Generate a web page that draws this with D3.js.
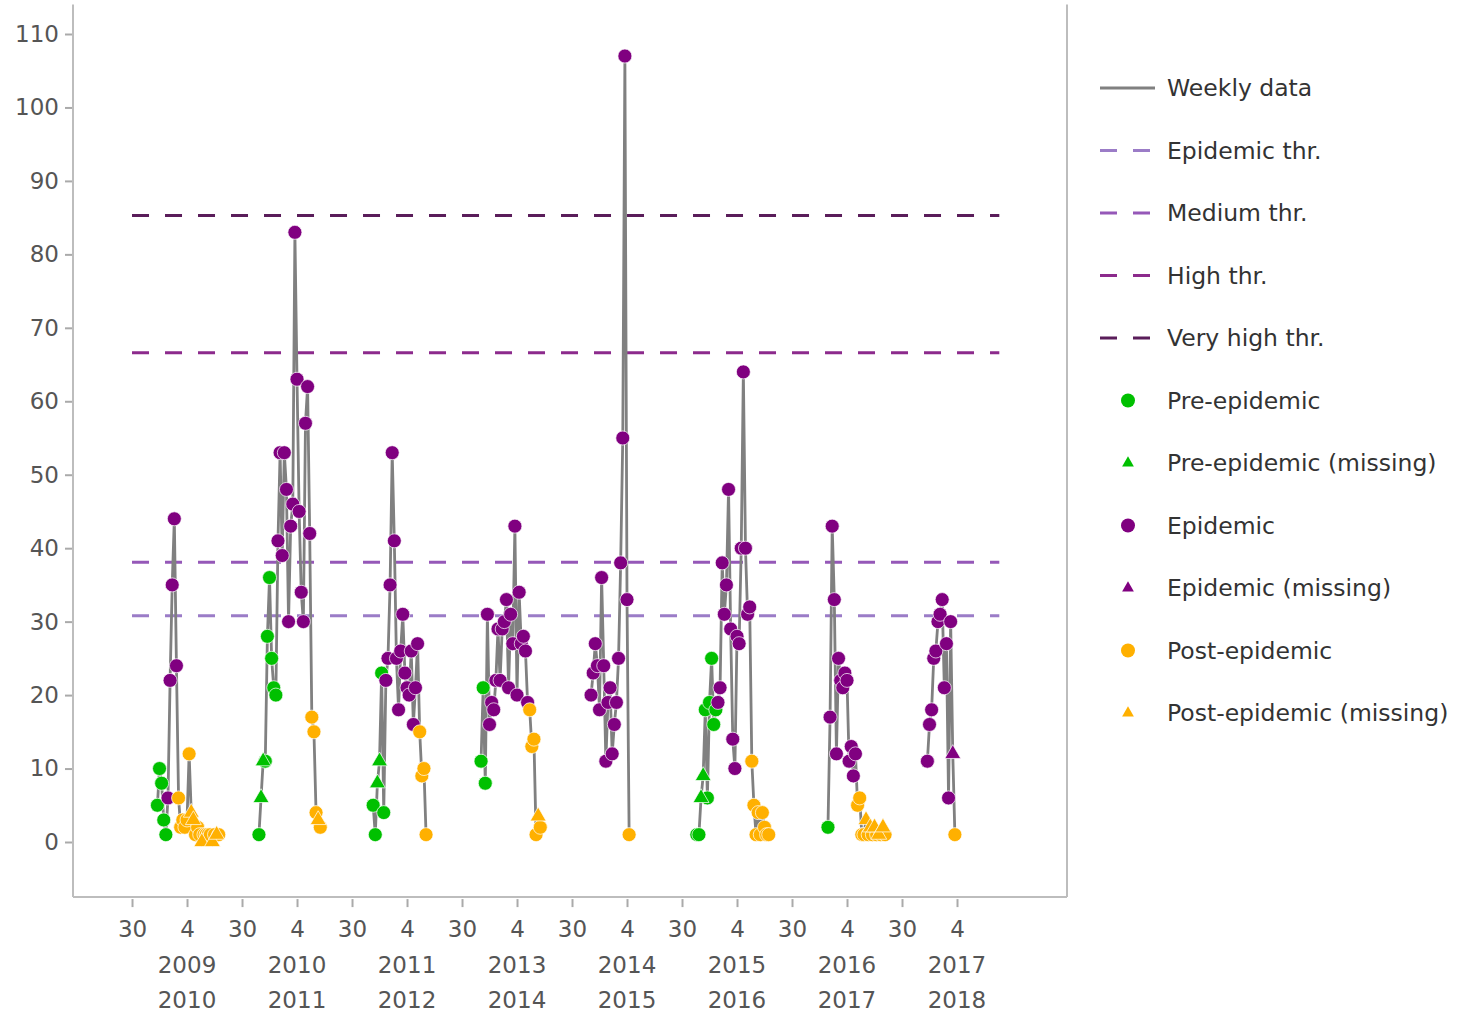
<!DOCTYPE html>
<html>
<head>
<meta charset="utf-8">
<script src="https://cdn.jsdelivr.net/npm/d3@7"></script>
<style>
  body { margin: 0; background: #fff; }
  text { font-family: "DejaVu Sans", Verdana, sans-serif; }
</style>
</head>
<body>
<svg id="chart" width="1466" height="1015"></svg>
<script>
/*
 * Data: weekly rates per season
 * Weeks are counted from week 30 of each season; each season spans 52 weeks
 */
const seasonYears1 = ['2009', '2010', '2011', '2013', '2014', '2015', '2016', '2017'];
const seasonYears2 = ['2010', '2011', '2012', '2014', '2015', '2016', '2017', '2018'];
const startWeeks = [12, 8, 10, 9, 9, 7, 17, 12];

const seasonValues = [
  [5, 10, 8, 3, 1, 6, 22, 35, 44, 24, 6, 2, 3, 2, 3, 12, 4, 3, 1, 2, 1, 0, 1, 1, 1, 1, 0, 1, 1, 1],
  [1, 6, 11, 11, 28, 36, 25, 21, 20, 41, 53, 39, 53, 48, 30, 43, 46, 83, 63, 45, 34, 30, 57, 62, 42, 17, 15, 4, 3, 2],
  [5, 1, 8, 11, 23, 4, 22, 25, 35, 53, 41, 25, 18, 26, 31, 23, 21, 20, 26, 16, 21, 27, 15, 9, 10, 1],
  [11, 21, 8, 31, 16, 19, 18, 22, 29, 22, 29, 30, 33, 21, 31, 27, 43, 20, 34, 27, 28, 26, 19, 18, 13, 14, 1, 3.5, 2],
  [20, 23, 27, 24, 18, 36, 24, 11, 19, 21, 12, 16, 19, 25, 38, 55, 107, 33, 1],
  [1, 1, 6, 9, 18, 6, 19, 25, 16, 18, 19, 21, 38, 31, 35, 48, 29, 14, 10, 28, 27, 40, 64, 40, 31, 32, 11, 5, 1, 4, 1, 4, 2, 1, 1],
  [2, 17, 43, 33, 12, 25, 22, 21, 23, 22, 11, 13, 9, 12, 5, 6, 1, 1, 3, 1, 2, 1, 2, 1, 1, 1, 2, 1],
  [11, 16, 18, 25, 26, 30, 31, 33, 21, 27, 6, 30, 12, 1]
];

// r = pre-epidemic, e = epidemic, o = post-epidemic; upper case = missing
const seasonPhases = [
  'rrrrreeeeeooooooOOoooOooooOoOo',
  'rRRrrrrrreeeeeeeeeeeeeeeeoooOo',
  'rrRRrreeeeeeeeeeeeeeeeoooo',
  'rrreeeeeeeeeeeeeeeeeeeeooooOo',
  'eeeeeeeeeeeeeeeeeeo',
  'rrRRrrrrrreeeeeeeeeeeeeeeeooooooooo',
  'reeeeeeeeeeeeeooooOoOoOoOoOo',
  'eeeeeeeeeeeeEo'
];

const thresholdNames = ['Epidemic thr.', 'Medium thr.', 'High thr.', 'Very high thr.'];
const thresholdValues = [30.8, 38.1, 66.6, 85.3];
const thresholdColors = ['#9b7cc7', '#9558b8', '#8c2a8c', '#5a1d5a'];

const phaseNames = {
  r: 'Pre-epidemic', R: 'Pre-epidemic (missing)',
  e: 'Epidemic', E: 'Epidemic (missing)',
  o: 'Post-epidemic', O: 'Post-epidemic (missing)'
};
const phaseColors = { r: '#00c000', e: '#800080', o: '#ffb000' };

const yTicks = d3.range(0, 111, 10);

/*
 * Layout
 */
const weeksPerSeason = 52;
const svg = d3.select('#chart');

const x = d3.scaleLinear()
    .domain([-27.9, 442])
    .range([73, 1067]);

const y = d3.scaleLinear()
    .domain([0, 110])
    .range([842, 34]);

const plotTop = y(114);
const plotBottom = y(-7.5);

// Build point records
const points = [];
const seasonLines = seasonValues.map((vals, s) => {
  return vals.map((v, i) => {
    const code = seasonPhases[s][i];
    const p = {
      week: s * weeksPerSeason + startWeeks[s] + i,
      value: v,
      phase: code.toLowerCase(),
      missing: code !== code.toLowerCase()
    };
    points.push(p);
    return p;
  });
});

/*
 * Axes frame
 */
const frame = svg.append('g').attr('stroke', '#bdbdbd').attr('stroke-width', 2);
frame.append('line').attr('x1', 73).attr('x2', 73).attr('y1', plotTop).attr('y2', plotBottom);
frame.append('line').attr('x1', 73).attr('x2', 1067).attr('y1', plotBottom).attr('y2', plotBottom);
frame.append('line').attr('x1', 1067).attr('x2', 1067).attr('y1', plotTop).attr('y2', plotBottom);

const yAxis = svg.append('g')
    .attr('transform', 'translate(72,0)')
    .call(d3.axisLeft(y).tickValues(yTicks).tickSize(7).tickPadding(6));
yAxis.select('.domain').remove();
yAxis.selectAll('line').attr('stroke', '#aaa').attr('stroke-width', 2);
yAxis.selectAll('text').attr('fill', '#555').style('font-size', '23px')
    .style('font-family', '"DejaVu Sans", Verdana, sans-serif');

const xTickValues = [];
const xTickLabels = [];
seasonYears1.forEach((d, s) => {
  xTickValues.push(s * weeksPerSeason, s * weeksPerSeason + 26);
  xTickLabels.push('30', '4');
});

const xAxis = svg.append('g')
    .attr('transform', `translate(0, ${plotBottom + 2})`)
    .call(d3.axisBottom(x).tickValues(xTickValues).tickSize(8)
      .tickFormat((d, i) => xTickLabels[i]).tickPadding(14));
xAxis.select('.domain').remove();
xAxis.selectAll('line').attr('stroke', '#aaa').attr('stroke-width', 2);
xAxis.selectAll('text').attr('fill', '#555').style('font-size', '23px')
    .style('font-family', '"DejaVu Sans", Verdana, sans-serif');

const seasonLabel = svg.append('g')
    .attr('fill', '#555')
    .style('font-size', '23px')
    .attr('text-anchor', 'middle');
seasonLabel.selectAll('.y1')
  .data(seasonYears1)
  .join('text')
    .attr('x', (d, s) => x(s * weeksPerSeason + 26))
    .attr('y', 965)
    .attr('dy', '0.35em')
    .text(d => d);
seasonLabel.selectAll('.y2')
  .data(seasonYears2)
  .join('text')
    .attr('x', (d, s) => x(s * weeksPerSeason + 26))
    .attr('y', 1000)
    .attr('dy', '0.35em')
    .text(d => d);

/*
 * Thresholds
 */
svg.append('g').selectAll('line')
  .data(thresholdValues)
  .join('line')
    .attr('x1', x(0))
    .attr('x2', x(410))
    .attr('y1', d => y(d))
    .attr('y2', d => y(d))
    .attr('stroke', (d, i) => thresholdColors[i])
    .attr('stroke-width', 3)
    .attr('stroke-dasharray', '17,16');

/*
 * Weekly data lines
 */
const line = d3.line().x(d => x(d.week)).y(d => y(d.value));
svg.append('g').selectAll('path')
  .data(seasonLines)
  .join('path')
    .attr('d', line)
    .attr('fill', 'none')
    .attr('stroke', '#808080')
    .attr('stroke-width', 2.8);

/*
 * Markers
 */
const triangle = d3.symbol(d3.symbolTriangle, 110);
const markers = svg.append('g');
markers.selectAll('circle')
  .data(points.filter(d => !d.missing))
  .join('circle')
    .attr('cx', d => x(d.week))
    .attr('cy', d => y(d.value))
    .attr('r', 7)
    .attr('fill', d => phaseColors[d.phase])
    .attr('stroke', '#fff')
    .attr('stroke-opacity', 0.7)
    .attr('stroke-width', 1);
markers.selectAll('path')
  .data(points.filter(d => d.missing))
  .join('path')
    .attr('d', triangle)
    .attr('transform', d => `translate(${x(d.week)}, ${y(d.value)})`)
    .attr('fill', d => phaseColors[d.phase])
    .attr('stroke', '#fff')
    .attr('stroke-opacity', 0.7)
    .attr('stroke-width', 1);

/*
 * Legend
 */
const legendItems = [{ name: 'Weekly data', type: 'line', color: '#808080' }]
  .concat(thresholdNames.map((d, i) => ({ name: d, type: 'dash', color: thresholdColors[i] })))
  .concat(['r', 'R', 'e', 'E', 'o', 'O'].map(c => ({
    name: phaseNames[c],
    type: c === c.toLowerCase() ? 'circle' : 'triangle',
    color: phaseColors[c.toLowerCase()]
  })));

const legend = svg.append('g')
    .attr('transform', 'translate(1100, 88)');

const legendRow = legend.selectAll('g')
  .data(legendItems)
  .join('g')
    .attr('transform', (d, i) => `translate(0, ${i * 62.5})`);

legendRow.filter(d => d.type === 'line' || d.type === 'dash')
  .append('line')
    .attr('x1', 0)
    .attr('x2', 55)
    .attr('stroke', d => d.color)
    .attr('stroke-width', 3)
    .attr('stroke-dasharray', d => d.type === 'dash' ? '17,16' : null);

legendRow.filter(d => d.type === 'circle')
  .append('circle')
    .attr('cx', 28)
    .attr('r', 7)
    .attr('fill', d => d.color);

legendRow.filter(d => d.type === 'triangle')
  .append('path')
    .attr('d', d3.symbol(d3.symbolTriangle, 60))
    .attr('transform', 'translate(28, 0)')
    .attr('fill', d => d.color);

legendRow.append('text')
    .attr('x', 67)
    .attr('dy', '0.35em')
    .attr('fill', '#333')
    .style('font-size', '23.5px')
    .text(d => d.name);
</script>
</body>
</html>
